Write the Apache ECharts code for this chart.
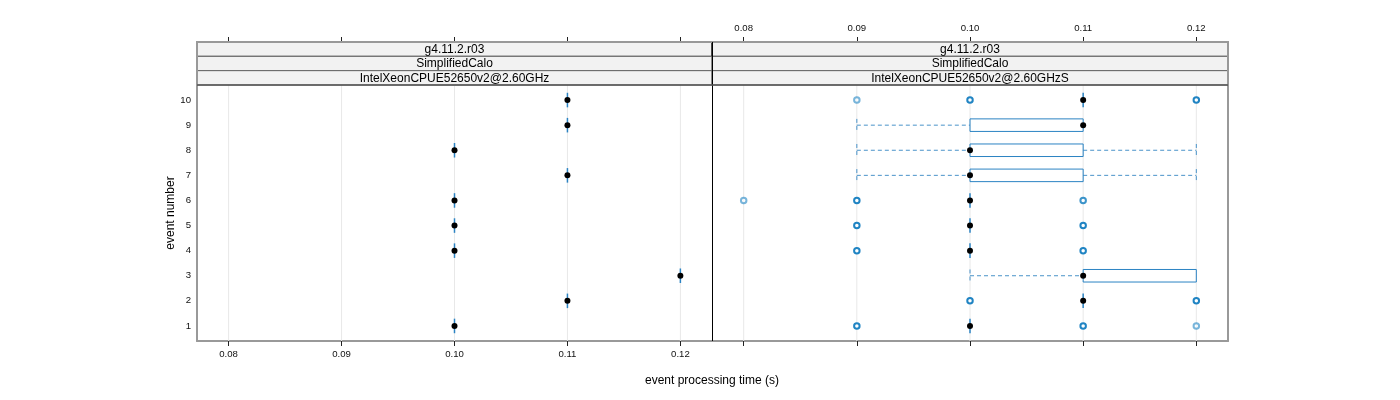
<!DOCTYPE html>
<html><head><meta charset="utf-8">
<script src="https://cdn.jsdelivr.net/npm/echarts@6/dist/echarts.min.js"></script>
<style>html,body{margin:0;padding:0;background:#fff}#c{width:1400px;height:400px}</style>
</head><body><div id="c"></div>
<script>
// ---- data ----
const events = [1,2,3,4,5,6,7,8,9,10];
const xTicks = [0.08,0.09,0.10,0.11,0.12];
const stripTop = 'g4.11.2.r03';
const stripMid = 'SimplifiedCalo';
const panelNames = ['IntelXeonCPUE52650v2@2.60GHz','IntelXeonCPUE52650v2@2.60GHzS'];
const xTitle = 'event processing time (s)';
const yTitle = 'event number';
// left panel: all runs identical per event
const leftValues = [0.10,0.11,0.12,0.10,0.10,0.10,0.11,0.10,0.11,0.11];
// right panel box statistics per event (1..10)
const rightLowWhisker  = [0.10,0.11,0.10,0.10,0.10,0.10,0.09,0.09,0.09,0.11];
const rightQ1          = [0.10,0.11,0.11,0.10,0.10,0.10,0.10,0.10,0.10,0.11];
const rightMedian      = [0.10,0.11,0.11,0.10,0.10,0.10,0.10,0.10,0.11,0.11];
const rightQ3          = [0.10,0.11,0.12,0.10,0.10,0.10,0.11,0.11,0.11,0.11];
const rightHighWhisker = [0.10,0.11,0.12,0.10,0.10,0.10,0.12,0.12,0.11,0.11];
// outliers: [event, value, number of overlapping points]
const rightOutliers = [
  [1,0.09,3],[1,0.11,3],[1,0.12,1],
  [2,0.10,3],[2,0.12,3],
  [4,0.09,3],[4,0.11,3],
  [5,0.09,3],[5,0.11,3],
  [6,0.08,1],[6,0.09,3],[6,0.11,2],
  [10,0.09,1],[10,0.10,3],[10,0.12,3]
];

// ---- layout / style ----
const xMin = 0.0772, xMax = 0.1228, yMin = 0.4, yMax = 10.6;
const G = [{left:197, width:515}, {left:712, width:516}];
const gTop = 85, gH = 256;
const stripY = [42, 56.33, 70.67, 85];
const FONT = 'Liberation Sans, Arial, sans-serif';
const BOXC = '#2b83c3', WHC = '#4a93c9', OUTC = '#0a78bd', GRAYB = '#999';

const leftBoxes = events.map((e,i)=>[e, leftValues[i], leftValues[i], leftValues[i], leftValues[i], leftValues[i]]);
const rightBoxes = events.map((e,i)=>[e, rightLowWhisker[i], rightQ1[i], rightMedian[i], rightQ3[i], rightHighWhisker[i]]);

function renderBox(params, api) {
  const y = api.value(0), lw = api.value(1), q1 = api.value(2), med = api.value(3), q3 = api.value(4), hw = api.value(5);
  const t = api.coord([q1, y + 0.25])[1];
  const b = api.coord([q1, y - 0.25])[1];
  const cy = api.coord([med, y])[1];
  const xLw = api.coord([lw, y])[0], xQ1 = api.coord([q1, y])[0], xMed = api.coord([med, y])[0],
        xQ3 = api.coord([q3, y])[0], xHw = api.coord([hw, y])[0];
  const dash = {stroke: WHC, lineWidth: 1, lineDash: [4, 3], fill: null};
  const ch = [];
  if (lw < q1) {
    ch.push({type:'line', shape:{x1:xLw, y1:cy, x2:xQ1, y2:cy}, style:dash});
    ch.push({type:'line', shape:{x1:xLw, y1:t, x2:xLw, y2:b}, style:dash});
  }
  if (hw > q3) {
    ch.push({type:'line', shape:{x1:xQ3, y1:cy, x2:xHw, y2:cy}, style:dash});
    ch.push({type:'line', shape:{x1:xHw, y1:t, x2:xHw, y2:b}, style:dash});
  }
  if (q3 > q1) {
    ch.push({type:'rect', shape:{x:xQ1, y:t, width:xQ3-xQ1, height:b-t}, style:{fill:null, stroke:BOXC, lineWidth:1}});
  } else {
    ch.push({type:'line', shape:{x1:xQ1, y1:t - 1, x2:xQ1, y2:b + 1}, style:{stroke:BOXC, lineWidth:1.5}});
  }
  ch.push({type:'circle', shape:{cx:xMed, cy:cy, r:3}, style:{fill:'#000'}});
  return {type:'group', children: ch};
}
function renderGridLine(params, api) {
  const v = api.value(0);
  const p1 = api.coord([v, yMin]), p2 = api.coord([v, yMax]);
  return {type:'line', shape:{x1:p1[0], y1:p1[1], x2:p2[0], y2:p2[1]}, style:{stroke:'#e8e8e8', lineWidth:1}};
}

function xAxisDef(gi, pos, showLabel, showLine) {
  return {
    type:'value', gridIndex:gi, position:pos, min:xMin, max:xMax,
    offset: pos === 'top' ? (gTop - stripY[0]) : 0,
    axisLine:{show:showLine, lineStyle:{color:GRAYB, width:2}},
    axisTick:{show:true, length:5, inside:false, customValues:xTicks, lineStyle:{color:'#222', width:1}},
    axisLabel:{show:showLabel, customValues:xTicks, formatter:v=>v.toFixed(2), fontSize:9.6, color:'#111',
               fontFamily:FONT, margin: pos === 'top' ? 9 : 8},
    splitLine:{show:false}
  };
}

const graphic = [];
G.forEach((g, k) => {
  const labels = [stripTop, stripMid, panelNames[k]];
  for (let r = 0; r < 3; r++) {
    graphic.push({type:'rect', shape:{x:g.left, y:stripY[r], width:g.width, height:stripY[r+1]-stripY[r]},
      style:{fill:'#f2f2f2', stroke: r === 0 ? '#111' : '#666', lineWidth:1}, z:100});
    graphic.push({type:'text', x:g.left + g.width/2, y:(stripY[r]+stripY[r+1])/2 + 0.5,
      style:{text:labels[r], fill:'#000', font:'12px ' + FONT, textAlign:'center', textVerticalAlign:'middle'}, z:101});
  }
});
// outer frame of the strip block and panel divider
graphic.push({type:'polyline', shape:{points:[[197,85],[197,42],[1228,42],[1228,85]]}, style:{stroke:GRAYB, lineWidth:2, fill:null}, z:102});
graphic.push({type:'line', shape:{x1:712.5, y1:42, x2:712.5, y2:341}, style:{stroke:'#000', lineWidth:1}, z:102});
graphic.push({type:'line', shape:{x1:197, y1:85, x2:1228, y2:85}, style:{stroke:'#555', lineWidth:1.5}, z:102});
graphic.push({type:'text', x:712, y:381, style:{text:xTitle, fill:'#000', font:'12px ' + FONT, textAlign:'center', textVerticalAlign:'middle'}, z:101});

const option = {
  animation:false,
  backgroundColor:'#fff',
  grid: G.map(g => ({left:g.left, top:gTop, width:g.width, height:gH, containLabel:false})),
  xAxis: [
    xAxisDef(0, 'bottom', true, true),
    xAxisDef(0, 'top', false, false),
    xAxisDef(1, 'top', true, false),
    xAxisDef(1, 'bottom', false, true)
  ],
  yAxis: [
    {type:'value', gridIndex:0, position:'left', min:yMin, max:yMax,
     axisLine:{show:true, lineStyle:{color:GRAYB, width:2}}, axisTick:{show:false},
     axisLabel:{customValues:events, fontSize:9.6, color:'#111', fontFamily:FONT, margin:6},
     splitLine:{show:false},
     name:yTitle, nameLocation:'middle', nameRotate:90, nameGap:19,
     nameTextStyle:{fontSize:12, color:'#000', fontFamily:FONT}},
    {type:'value', gridIndex:1, position:'left', min:yMin, max:yMax,
     axisLine:{show:false}, axisTick:{show:false}, axisLabel:{show:false}, splitLine:{show:false}},
    {type:'value', gridIndex:1, position:'right', min:yMin, max:yMax,
     axisLine:{show:true, lineStyle:{color:GRAYB, width:2}}, axisTick:{show:false}, axisLabel:{show:false}, splitLine:{show:false}}
  ],
  graphic: graphic,
  series: [
    {type:'custom', xAxisIndex:0, yAxisIndex:0, data:xTicks.map(t=>[t]), encode:{x:0}, renderItem:renderGridLine, silent:true, z:1},
    {type:'custom', xAxisIndex:2, yAxisIndex:1, data:xTicks.map(t=>[t]), encode:{x:0}, renderItem:renderGridLine, silent:true, z:1},
    {type:'custom', xAxisIndex:0, yAxisIndex:0, data:leftBoxes, encode:{y:0, x:[1,2,3,4,5]}, renderItem:renderBox, z:3},
    {type:'custom', xAxisIndex:2, yAxisIndex:1, data:rightBoxes, encode:{y:0, x:[1,2,3,4,5]}, renderItem:renderBox, z:3},
    {type:'scatter', xAxisIndex:2, yAxisIndex:1, symbol:'emptyCircle', symbolSize:5.5, z:4,
     data: rightOutliers.map(o => ({value:[o[1], o[0]], itemStyle:{opacity: 1 - Math.pow(0.45, o[2])}})),
     itemStyle:{color:OUTC, borderColor:OUTC, borderWidth:1.5}}
  ]
};
const chart = echarts.init(document.getElementById('c'), null, {renderer:'canvas'});
chart.setOption(option);
</script>
</body></html>
